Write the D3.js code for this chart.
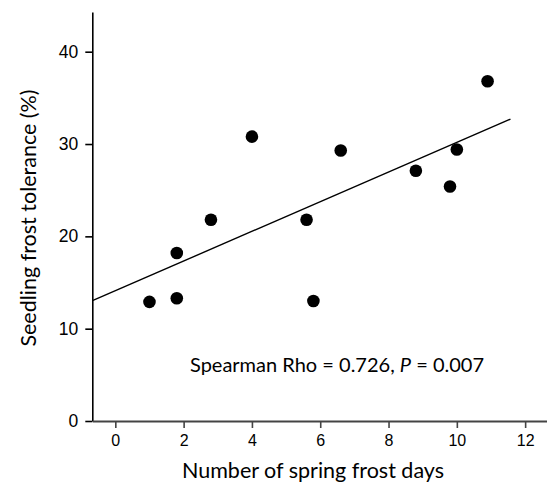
<!DOCTYPE html>
<html>
<head>
<meta charset="utf-8">
<script src="https://cdn.jsdelivr.net/npm/d3@7"></script>
<style>
  body { margin: 0; background: #fff; }
  svg { display: block; }
</style>
</head>
<body>
<script>
// Data
const frostDays = [1.0, 1.8, 1.8, 2.8, 4.0, 5.6, 5.8, 6.6, 8.8, 9.8, 10.0, 10.9];
const tolerance = [12.9, 13.3, 18.2, 21.8, 30.8, 21.8, 13.0, 29.3, 27.1, 25.4, 29.4, 36.8];
const fitX = [-0.67, 11.57];
const fitY = [13.04, 32.7];
const xTicks = [0, 2, 4, 6, 8, 10, 12];
const yTicks = [0, 10, 20, 30, 40];

const width = 547;
const height = 488;
const titleFont = "Lato, 'Noto Sans', sans-serif";
const tickFont = "'Liberation Sans', Arial, sans-serif";

const svg = d3.select("body")
  .append("svg")
  .attr("width", width)
  .attr("height", height);

const x = d3.scaleLinear().domain([-0.674, 12.64]).range([92.3, 547]);
const y = d3.scaleLinear().domain([0, 44.3]).range([421, 12]);

// y axis
const yAxis = svg.append("g")
  .attr("transform", "translate(92.3,0)")
  .call(d3.axisLeft(y).tickValues(yTicks).tickSize(7).tickSizeOuter(0).tickPadding(7));
yAxis.select(".domain").attr("stroke", "#000").attr("stroke-width", 1.6);
yAxis.selectAll(".tick line").attr("stroke", "#000").attr("stroke-width", 1.6);
yAxis.selectAll(".tick text")
  .style("font-family", tickFont)
  .style("font-size", "17.5px")
  .attr("fill", "#000");

// x axis
const xAxis = svg.append("g")
  .attr("transform", "translate(0,421)")
  .call(d3.axisBottom(x).tickValues(xTicks).tickSize(7).tickSizeOuter(0).tickPadding(7));
xAxis.select(".domain").attr("stroke", "#444").attr("stroke-width", 2);
xAxis.selectAll(".tick line").attr("stroke", "#444").attr("stroke-width", 1.6);
xAxis.selectAll(".tick text")
  .style("font-family", tickFont)
  .style("font-size", "16px")
  .attr("fill", "#000");

// regression line
svg.append("line")
  .attr("x1", x(fitX[0]))
  .attr("y1", y(fitY[0]))
  .attr("x2", x(fitX[1]))
  .attr("y2", y(fitY[1]))
  .attr("stroke", "#000")
  .attr("stroke-width", 1.4);

// points
svg.append("g")
  .selectAll("circle")
  .data(frostDays)
  .join("circle")
  .attr("cx", (d) => x(d))
  .attr("cy", (d, i) => y(tolerance[i]))
  .attr("r", 6.3)
  .attr("fill", "#000");

// annotation
const note = svg.append("text")
  .attr("x", 190)
  .attr("y", 372)
  .style("font-family", titleFont)
  .style("font-size", "20px")
  .attr("fill", "#000");
note.append("tspan").text("Spearman Rho = 0.726, ");
note.append("tspan").style("font-style", "italic").text("P");
note.append("tspan").text(" = 0.007");

// axis titles
svg.append("text")
  .attr("x", 313)
  .attr("y", 478)
  .attr("text-anchor", "middle")
  .style("font-family", titleFont)
  .style("font-size", "21.5px")
  .attr("fill", "#000")
  .text("Number of spring frost days");

svg.append("text")
  .attr("transform", "translate(36,218) rotate(-90)")
  .attr("text-anchor", "middle")
  .style("font-family", titleFont)
  .style("font-size", "21.5px")
  .attr("fill", "#000")
  .text("Seedling frost tolerance (%)");
</script>
</body>
</html>
